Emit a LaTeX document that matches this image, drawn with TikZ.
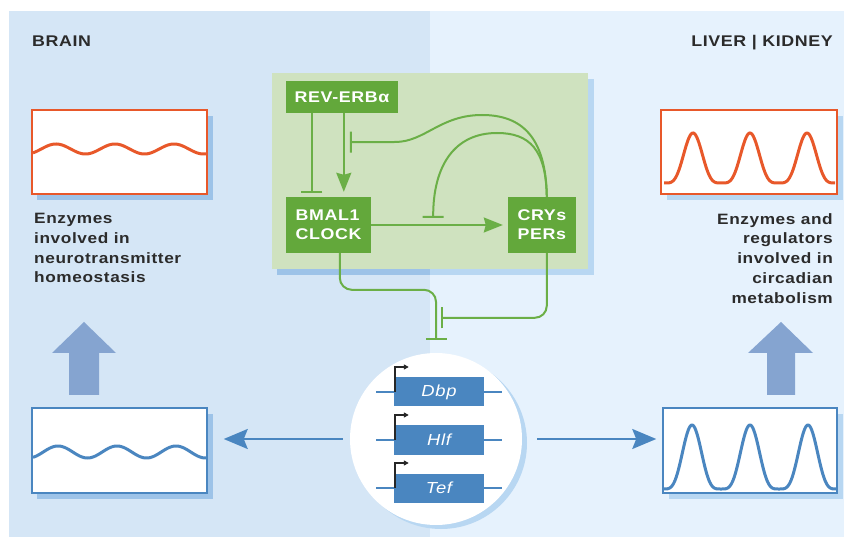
\documentclass[tikz,border=0pt]{standalone}
\usepackage{fontspec}
\setmainfont{Liberation Sans}[FakeStretch=1.15,LetterSpace=4]
\usetikzlibrary{arrows.meta,calc}

\definecolor{brainbg}{HTML}{D5E6F6}
\definecolor{liverbg}{HTML}{E6F2FD}
\definecolor{clockbg}{HTML}{CFE2BF}
\definecolor{clockgreen}{HTML}{63A83B}
\definecolor{linkgreen}{HTML}{6BAF47}
\definecolor{shadowL}{HTML}{9DC3E8}
\definecolor{shadowR}{HTML}{B8D7F2}
\definecolor{wavered}{HTML}{E8582A}
\definecolor{geneblue}{HTML}{4A86C0}
\definecolor{bigarrow}{HTML}{85A4D0}
\definecolor{inktext}{HTML}{2B2B2B}

\tikzset{
  title/.style={font=\bfseries\fontsize{15.5}{18}\selectfont, text=inktext, inner sep=0pt},
  caption/.style={font=\bfseries\fontsize{15}{19.8}\selectfont, text=inktext, inner sep=0pt},
  clockbox/.style={fill=clockgreen, text=white, inner sep=0pt, align=left,
    font=\bfseries\fontsize{15.5}{19}\selectfont},
  genebox/.style={fill=geneblue, text=white, inner sep=0pt, minimum width=90pt,
    minimum height=29pt, font=\itshape\fontsize{16}{18}\selectfont},
  waveframe/.style={fill=white, inner sep=0pt, minimum width=175pt, minimum height=84pt},
  activate/.style={draw=linkgreen, line width=2pt, -{Stealth[length=19pt,width=15pt,inset=2pt]}},
  inhib/.style={draw=linkgreen, line width=2pt, -{Bar[width=21pt]}},
  output/.style={draw=geneblue, line width=2pt, -{Stealth[length=24pt,width=20pt,inset=4pt]}},
  dna/.style={draw=geneblue, line width=1.6pt},
  promoter/.style={draw=black!85, line width=1.6pt, -{Triangle[length=5pt,width=5pt]}},
  redwave/.style={draw=wavered, line width=3pt},
  bluewave/.style={draw=geneblue, line width=3pt},
  upshape/.style={fill=bigarrow}
}

\begin{document}
\begin{tikzpicture}[x=1pt,y=-1pt]
\useasboundingbox (0,0) rectangle (844,537);
\fill[white] (0,0) rectangle (844,537);

% tissue panels
\fill[brainbg] (9,11) rectangle (430,537);
\fill[liverbg] (430,11) rectangle (844,537);

\node[title, anchor=base west] (brain) at (32,46.5) {BRAIN};
\node[title, anchor=base east] (liver) at (833,46.5) {LIVER | KIDNEY};

% core clock panel with its drop shadow
\fill[shadowR] (277,79) rectangle (594,275);
\fill[shadowL] (277,79) rectangle (430,275);
\fill[clockbg] (272,73) rectangle (588,269);

\node[clockbox, minimum width=112pt, minimum height=32pt] (rev) at (342,97) {REV-ERBα};
\node[clockbox, minimum width=85pt, minimum height=56pt] (bmal) at (328.5,225) {BMAL1\\CLOCK};
\node[clockbox, minimum width=68pt, minimum height=56pt] (cry) at (542,225) {CRYs\\PERs};

% feedback loops
\draw[inhib, shorten >=4pt] ($(rev.south west)+(26,0)$) -- ($(bmal.north west)+(26,0)$);
\draw[activate, shorten >=5pt] ($(rev.south west)+(58,0)$) -- ($(bmal.north west)+(58,0)$);
\draw[activate, shorten >=5pt] (bmal.east) -- (cry.west);
\draw[inhib] ($(cry.north west)+(39,0)$) .. controls (546,135) and (520,115) .. (482,115)
  .. controls (440,115) and (425,142) .. (395,142) -- ($(rev.south west)+(64,29)$);
\draw[inhib] ($(cry.north west)+(39,0)$) .. controls (546,150) and (530,133) .. (497,133)
  .. controls (455,133) and (433,165) .. ($(bmal.north east)+(62,21)$);

% clock-controlled PAR bZIP genes
\fill[shadowR] (441,443) circle (86);
\node[circle, fill=white, minimum size=172pt, inner sep=0pt] (genes) at (436,439) {};

\draw[inhib, rounded corners=12pt, shorten >=13pt]
  ($(bmal.south west)+(54,0)$) |- ($(genes.north)+(0,-63)$) -- (genes.north);
\draw[inhib, rounded corners=12pt]
  ($(cry.south west)+(39,0)$) |- ($(genes.north)+(5,-35)$);

\foreach \g/\t/\yy in {dbp/Dbp/392, hlf/Hlf/440, tef/Tef/488} {
  \draw[dna] (376,\yy) -- (502,\yy);
  \node[genebox] (\g) at (439,\yy) {\t};
  \draw[promoter] ($(\g.west)+(1,0)$) |- ++(14,-25);
}

% tissue outputs
\fill[shadowL] (37,116) rectangle (213,200);
\node[waveframe, draw=wavered, line width=2pt] (brainhigh) at (119.5,152) {};
\draw[redwave] plot[domain=33:206, samples=150, smooth] (\x, {149 - 5*cos(6.10169*(\x-56))});

\fill[shadowR] (667,116) rectangle (843,200);
\node[waveframe, draw=wavered, line width=2pt, minimum width=176pt] (liverhigh) at (749,152) {};
\draw[redwave] plot[domain=664:835, samples=200, smooth]
  (\x, {183 - 12.5*(1+cos(6.31579*(\x-693)))*(1+cos(6.31579*(\x-693)))});

\fill[shadowL] (37,414) rectangle (213,499);
\node[waveframe, draw=geneblue, line width=1.5pt, minimum height=85pt] (brainlow) at (119.5,450.5) {};
\draw[bluewave] plot[domain=33:206, samples=150, smooth] (\x, {452 - 6*cos(6.10169*(\x-58))});

\fill[shadowR] (669,414) rectangle (843,499);
\node[waveframe, draw=geneblue, line width=1.5pt, minimum width=174pt, minimum height=85pt] (liverlow) at (750,450.5) {};
\draw[bluewave] plot[domain=664:836, samples=200, smooth]
  (\x, {489 - 16*(1+cos(6.2069*(\x-750)))*(1+cos(6.2069*(\x-750)))});

\draw[output, shorten <=7pt, shorten >=16pt] (genes.west) -- (genes.west -| brainlow.east);
\draw[output, shorten <=15pt, shorten >=6pt] (genes.east) -- (genes.east -| liverlow.west);

\fill[upshape] (84,322) -- (116,353) -- (99,353) -- (99,395) -- (69,395) -- (69,353) -- (52,353) -- cycle;
\fill[upshape] (781,322) -- (813,353) -- (795,353) -- (795,395) -- (767,395) -- (767,353) -- (748,353) -- cycle;

\node[caption, anchor=north west, align=left] (braintext) at (34,213)
  {Enzymes\\involved in\\neurotransmitter\\homeostasis};
\node[caption, anchor=north east, align=right] (livertext) at (833,213)
  {Enzymes and\\regulators\\involved in\\circadian\\metabolism};
\end{tikzpicture}
\end{document}
